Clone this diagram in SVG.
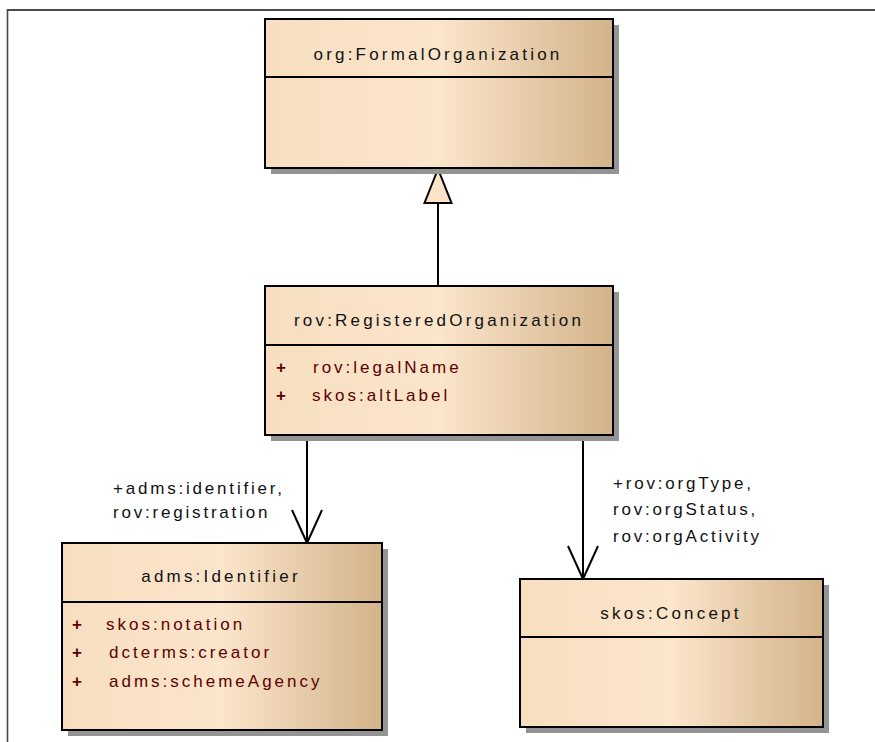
<svg xmlns="http://www.w3.org/2000/svg" width="875" height="742" viewBox="0 0 875 742">
<style>
.frame{stroke:#4a4a4a;fill:none}
.shadow{fill:#949494}
.box{fill:url(#g);stroke:#000;stroke-width:2}
.div{stroke:#000;stroke-width:2}
.title{font-family:"Liberation Sans",Arial,sans-serif;font-size:17px;letter-spacing:3.2px;fill:#111;text-anchor:middle}
.attr{font-family:"Liberation Sans",Arial,sans-serif;font-size:17px;letter-spacing:3px;fill:#5c0000}
.plus{font-family:"Liberation Sans",Arial,sans-serif;font-size:17px;fill:#5c0000;font-weight:bold}
.lbl{font-family:"Liberation Sans",Arial,sans-serif;font-size:17px;letter-spacing:2.8px;fill:#111}
.conn{stroke:#000;stroke-width:2;fill:none}
</style>
<defs>
<linearGradient id="g" x1="0" y1="0" x2="1" y2="0">
<stop offset="0" stop-color="#f7dec0"/>
<stop offset="0.5" stop-color="#fbe5cb"/>
<stop offset="1" stop-color="#d3b389"/>
</linearGradient>
<marker id="open" markerUnits="userSpaceOnUse" orient="auto" refX="0" refY="0" markerWidth="40" markerHeight="40" overflow="visible">
<path d="M-33,-15 L0,0 L-33,15" fill="none" stroke="#000" stroke-width="2"/>
</marker>
<marker id="tri" markerUnits="userSpaceOnUse" orient="auto" refX="0" refY="0" markerWidth="40" markerHeight="40" overflow="visible">
<path d="M0,0 L-34,-13.5 L-34,13.5 Z" fill="#fae3c7" stroke="#000" stroke-width="2"/>
</marker>
</defs>
<rect width="875" height="742" fill="#fff"/>
<line class="frame" x1="7" y1="10" x2="875" y2="10" stroke-width="2.2"/>
<line class="frame" x1="7.5" y1="9" x2="7.5" y2="742" stroke-width="1.6"/>

<g id="connectors">
<line class="conn" x1="438" y1="286" x2="438" y2="169" marker-end="url(#tri)"/>
<line class="conn" x1="307" y1="435" x2="307" y2="543" marker-end="url(#open)"/>
<line class="conn" x1="583" y1="435" x2="583" y2="579" marker-end="url(#open)"/>
<text class="lbl" x="113" y="494">+adms:identifier,</text>
<text class="lbl" x="113" y="518">rov:registration</text>
<text class="lbl" x="613" y="489">+rov:orgType,</text>
<text class="lbl" x="613" y="515">rov:orgStatus,</text>
<text class="lbl" x="613" y="542">rov:orgActivity</text>
</g>

<g id="formalOrganization">
<rect class="shadow" x="271" y="25" width="348" height="149"/>
<rect class="box" x="265" y="19" width="348" height="149"/>
<line class="div" x1="265" y1="77" x2="613" y2="77"/>
<text class="title" x="438" y="60">org:FormalOrganization</text>
</g>

<g id="registeredOrganization">
<rect class="shadow" x="271" y="292" width="348" height="149"/>
<rect class="box" x="265" y="286" width="348" height="149"/>
<line class="div" x1="265" y1="345" x2="613" y2="345"/>
<text class="title" x="439" y="326">rov:RegisteredOrganization</text>
<text class="plus" x="276" y="373">+</text>
<text class="attr" x="313" y="373">rov:legalName</text>
<text class="plus" x="276" y="401">+</text>
<text class="attr" x="312" y="401">skos:altLabel</text>
</g>

<g id="identifier">
<rect class="shadow" x="68" y="549" width="320" height="187"/>
<rect class="box" x="62" y="543" width="320" height="187"/>
<line class="div" x1="62" y1="602" x2="382" y2="602"/>
<text class="title" x="221" y="582">adms:Identifier</text>
<text class="plus" x="72" y="630">+</text>
<text class="attr" x="106" y="630">skos:notation</text>
<text class="plus" x="72" y="658">+</text>
<text class="attr" x="109" y="658">dcterms:creator</text>
<text class="plus" x="72" y="687">+</text>
<text class="attr" x="109" y="687">adms:schemeAgency</text>
</g>

<g id="concept">
<rect class="shadow" x="526" y="585" width="303" height="148"/>
<rect class="box" x="520" y="579" width="303" height="148"/>
<line class="div" x1="520" y1="637" x2="823" y2="637"/>
<text class="title" x="671" y="619">skos:Concept</text>
</g>
</svg>
